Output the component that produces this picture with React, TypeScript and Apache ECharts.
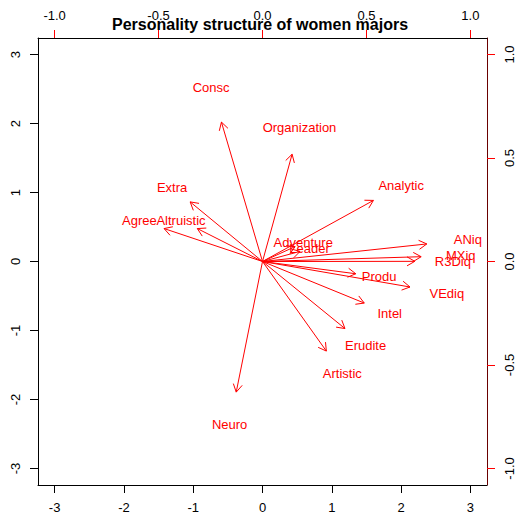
import React, { useEffect, useRef } from "react";
import * as echarts from "echarts";

const vars = ["Consc", "Organization", "Extra", "Agree", "Altruistic", "Analytic", "Adventure", "Leader", "ANiq", "MXiq", "R3Diq", "Produ", "VEdiq", "Intel", "Erudite", "Artistic", "Neuro"];
const loadX = [-0.247, 0.178, -0.435, -0.592, -0.392, 0.667, 0.196, 0.226, 0.988, 0.954, 0.916, 0.561, 0.887, 0.612, 0.496, 0.384, -0.158];
const loadY = [0.842, 0.648, 0.360, 0.199, 0.199, 0.369, 0.090, 0.061, 0.106, 0.029, 0.001, -0.074, -0.154, -0.251, -0.405, -0.541, -0.789];

const scoreTicks = [-3, -2, -1, 0, 1, 2, 3];
const loadTicks = [-1, -0.5, 0, 0.5, 1];
const titleText = "Personality structure of women majors";

const FONT = '"Liberation Sans", Arial, Helvetica, sans-serif';

export default function App() {
  const ref = useRef<HTMLDivElement>(null);
  useEffect(() => {
    if (!ref.current) return;
    const chart = echarts.init(ref.current, null, { renderer: "svg" });
    const baseLabel = { fontSize: 13, fontFamily: FONT, color: "#000", margin: 16 };
    const option: any = {
      animation: false,
      backgroundColor: "#fff",
      title: {
        text: titleText,
        left: 112,
        top: 16,
        padding: 0,
        textStyle: { fontSize: 16, fontWeight: "bold", fontFamily: FONT, color: "#000" },
      },
      grid: { left: 38, top: 38, width: 449, height: 447, containLabel: false },
      xAxis: [
        {
          type: "value", position: "bottom", min: -3.24, max: 3.24,
          axisLine: { show: true, onZero: false, lineStyle: { color: "#000", width: 1 } },
          axisTick: { show: true, length: 8, customValues: scoreTicks, lineStyle: { color: "#000" } },
          axisLabel: { ...baseLabel, customValues: scoreTicks, formatter: (v: number) => String(v) },
          splitLine: { show: false },
        },
        {
          type: "value", position: "top", min: -1.08, max: 1.08,
          axisLine: { show: true, onZero: false, lineStyle: { color: "#000", width: 1 } },
          axisTick: { show: true, length: 8, customValues: loadTicks, lineStyle: { color: "#ff0000" } },
          axisLabel: { ...baseLabel, customValues: loadTicks, formatter: (v: number) => v.toFixed(1) },
          splitLine: { show: false },
        },
      ],
      yAxis: [
        {
          type: "value", position: "left", min: -3.24, max: 3.24,
          axisLine: { show: true, onZero: false, lineStyle: { color: "#000", width: 1 } },
          axisTick: { show: true, length: 8, customValues: scoreTicks, lineStyle: { color: "#000" } },
          axisLabel: { ...baseLabel, rotate: 90, customValues: scoreTicks, formatter: (v: number) => String(v) },
          splitLine: { show: false },
        },
        {
          type: "value", position: "right", min: -1.08, max: 1.08,
          axisLine: { show: true, onZero: false, lineStyle: { color: "#6a0000", width: 1 } },
          axisTick: { show: true, length: 8, customValues: loadTicks, lineStyle: { color: "#ff0000" } },
          axisLabel: { ...baseLabel, rotate: 90, customValues: loadTicks, formatter: (v: number) => v.toFixed(1) },
          splitLine: { show: false },
        },
      ],
      series: [
        {
          type: "custom",
          coordinateSystem: "cartesian2d",
          xAxisIndex: 1,
          yAxisIndex: 1,
          clip: false,
          data: vars.map((_, i) => [loadX[i], loadY[i]]),
          renderItem: (params: any, api: any) => {
            const lx = api.value(0);
            const ly = api.value(1);
            const o = api.coord([0, 0]);
            const t = api.coord([0.8 * lx, 0.8 * ly]);
            const c = api.coord([lx, ly]);
            const ang = Math.atan2(t[1] - o[1], t[0] - o[0]);
            const L = 9;
            const a = Math.PI / 6;
            const p1 = [t[0] - L * Math.cos(ang - a), t[1] - L * Math.sin(ang - a)];
            const p2 = [t[0] - L * Math.cos(ang + a), t[1] - L * Math.sin(ang + a)];
            return {
              type: "group",
              children: [
                { type: "line", shape: { x1: o[0], y1: o[1], x2: t[0], y2: t[1] }, style: { stroke: "#ff0000", lineWidth: 1 } },
                { type: "polyline", shape: { points: [p1, t, p2] }, style: { stroke: "#ff0000", fill: null, lineWidth: 1 } },
                {
                  type: "text",
                  style: {
                    text: vars[params.dataIndex], x: c[0], y: c[1],
                    align: "center", verticalAlign: "middle",
                    fill: "#ff0000", font: `13px ${FONT}`,
                  },
                },
              ],
            };
          },
        },
      ],
    };
    chart.setOption(option);
    return () => chart.dispose();
  }, []);
  return <div ref={ref} style={{ position: "fixed", left: 0, top: 0, width: 519, height: 519, background: "#fff" }} />;
}
